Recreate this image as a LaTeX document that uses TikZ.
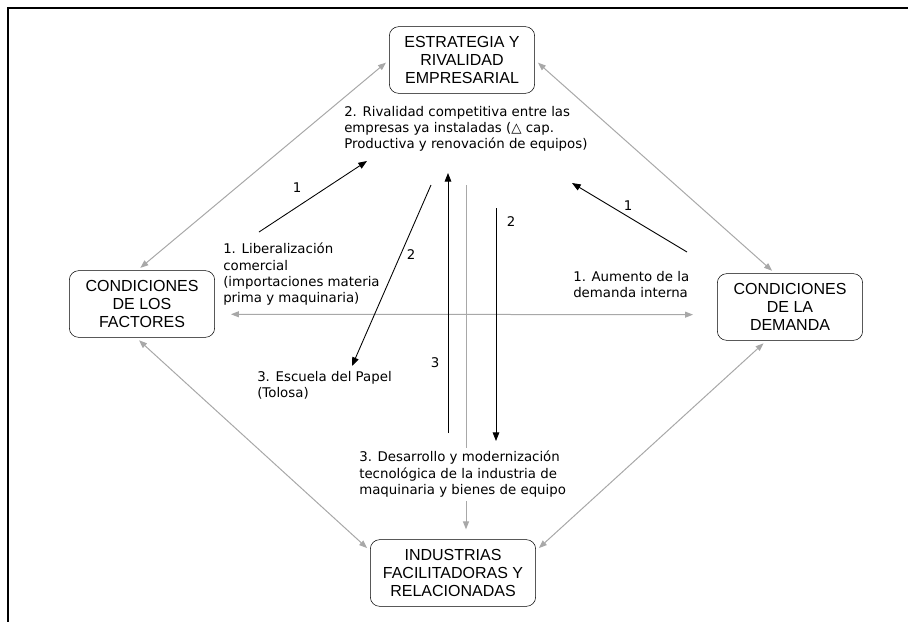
\documentclass[tikz,border=0pt]{standalone}
\usepackage{fontspec}
\setmainfont{Liberation Sans}
\newfontfamily\notefont{DejaVu Sans}
\usetikzlibrary{arrows.meta}
\usepackage{xcolor}
\definecolor{linegray}{RGB}{168,168,168}

\begin{document}
\begin{tikzpicture}[x=0.75pt,y=-0.75pt,
		box/.style={draw,rounded corners=7pt,align=center,minimum width=109pt,minimum height=50pt,inner sep=2pt,font=\fontsize{12}{13.5}\selectfont},
		note/.style={align=left,anchor=north west,inner sep=0pt,font=\notefont\fontsize{10}{12.2}\selectfont},
		num/.style={inner sep=0pt,font=\notefont\fontsize{10}{12}\selectfont},
		link/.style={draw=linegray,line width=0.75pt,{Triangle[length=6pt,width=4.5pt]}-{Triangle[length=6pt,width=4.5pt]},shorten <=3pt,shorten >=3pt},
		glink/.style={draw=linegray,line width=0.75pt,-{Triangle[length=6pt,width=4.5pt]}},
		flow/.style={draw,line width=0.65pt,-{Triangle[length=6.5pt,width=5pt]}}]
		\useasboundingbox (0,0) rectangle (908,622);
		\draw[line width=1pt] (908,8) -- (8,8) -- (8,622);
		% diamond of the four boxes
		\node[box] (est) at (462,60) {ESTRATEGIA Y\\RIVALIDAD\\EMPRESARIAL};
		\node[box] (fac) at (142,304) {CONDICIONES\\DE LOS\\FACTORES};
		\node[box] (dem) at (790,307) {CONDICIONES\\DE LA\\DEMANDA};
		\node[box,minimum width=124pt] (ind) at (453,573) {INDUSTRIAS\\FACILITADORAS Y\\RELACIONADAS};
		\draw[link] (fac.98) -- (est.west);
		\draw[link] (est.east) -- (dem.114);
		\draw[link] (fac.-100) -- (ind.165);
		\draw[link] (dem.-125) -- (ind.15);
		\draw[link,shorten <=12pt,shorten >=18pt] (fac.-8) -- (dem.186);
		\coordinate (gtop) at (466,185);
		\draw[glink,shorten >=7.5pt] (gtop) -- (gtop |- ind.north);
		% texts
		\node[note] (riv) at (344,106) {2. Rivalidad competitiva entre las\\empresas ya instaladas (△ cap.\\Productiva y renovación de equipos)};
		\node[note] (lib) at (223,243) {1. Liberalización\\comercial\\(importaciones materia\\prima y maquinaria)};
		\node[note] (aum) at (573,271) {1. Aumento de la\\demanda interna};
		\node[note] (esc) at (257,371) {3. Escuela del Papel\\(Tolosa)};
		\node[note,fill=white,inner sep=2.5pt] (des) at (355.7,447.7) {3. Desarrollo y modernización\\tecnológica de la industria de\\maquinaria y bienes de equipo};
		% black arrows
		\coordinate (l1a) at (259,232);
		\coordinate (l1b) at (367,161);
		\coordinate (r1a) at (687,252);
		\coordinate (r1b) at (572,183);
		\coordinate (d2a) at (431,185);
		\coordinate (d2b) at (352,366);
		\coordinate (u3a) at (448,433);
		\coordinate (u3b) at (448,173);
		\coordinate (v2a) at (496,208);
		\coordinate (v2b) at (496,441);
		\draw[flow] (l1a) -- (l1b);
		\draw[flow] (r1a) -- (r1b);
		\draw[flow] (d2a) -- (d2b);
		\draw[flow] (u3a) -- (u3b);
		\draw[flow] (v2a) -- (v2b);
		\node[num] (n1l) at (297,188) {1};
		\node[num] (n1r) at (628,206) {1};
		\node[num] (n2d) at (411,255) {2};
		\node[num] (n3u) at (435,363) {3};
		\node[num] (n2v) at (511,222) {2};
	\end{tikzpicture}
\end{document}
